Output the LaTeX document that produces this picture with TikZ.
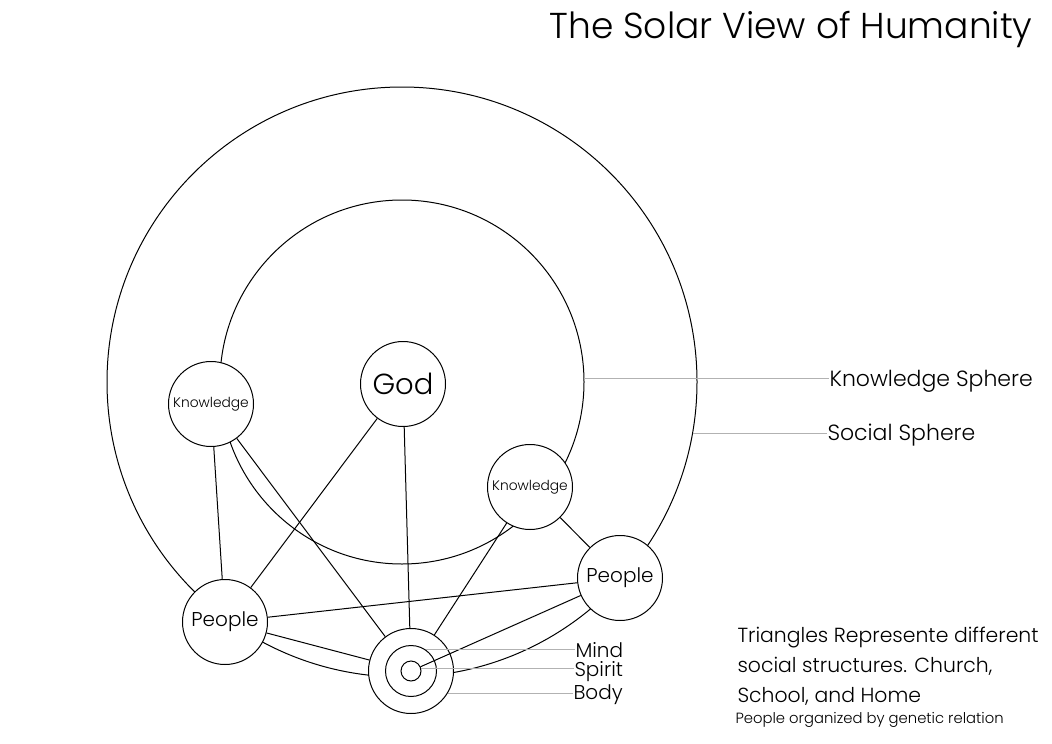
\documentclass[tikz,border=0pt]{standalone}
\usepackage{fontspec}
\setmainfont{Poppins}[UprightFont=* Light]
\begin{document}
\begin{tikzpicture}[x=1pt,y=-1pt, line width=1pt,
  sphere/.style={circle, draw, inner sep=0pt},
  ball/.style={circle, draw, fill=white, inner sep=0pt, minimum size=85pt},
  ring/.style={circle, draw, inner sep=0pt},
  leader/.style={draw=black!30, line width=1pt},
  lbl/.style={anchor=base west, inner sep=0pt},
  ftitle/.style={font=\fontsize{36}{36}\selectfont},
  fbig/.style={font=\fontsize{22}{22}\selectfont},
  ftri/.style={font=\fontsize{20.4}{20.4}\selectfont},
  fmid/.style={font=\fontsize{20}{20}\selectfont},
  fsmall/.style={font=\fontsize{13.8}{13.8}\selectfont},
  fnote/.style={font=\fontsize{14.8}{14.8}\selectfont}]
\useasboundingbox (0,0) rectangle (1052,744);

% spheres
\node[sphere, minimum size=590pt] (social) at (402,382) {};
\node[sphere, minimum size=364pt] (know) at (402,382) {};

% nodes
\node[ball, font=\fontsize{29}{29}\selectfont] (god) at (403,384) {God};
\node[ball, fsmall] (kl) at (211,404) {Knowledge};
\node[ball, fsmall] (kr) at (530,487) {Knowledge};
\node[ball, fmid] (pl) at (225,622) {People};
\node[ball, fmid] (pr) at (620,578) {People};
\node[ball] (tgt) at (411,671) {};
\node[ring, minimum size=51pt] (tmid) at (411,671) {};
\node[ring, minimum size=20pt] (tin) at (411,671) {};

% connectors
\draw (kl) -- (pl);
\draw (kl) -- (tgt);
\draw (god) -- (pl);
\draw (god) -- (tgt);
\draw (kr) -- (tgt);
\draw (kr) -- (pr);
\draw (pr) -- (pl);
\draw (pr) -- (tin);
\draw (pl) -- (tgt);

% labels with leaders
\node[lbl, fbig] (ksl) at (829,386) {Knowledge Sphere};
\draw[leader] (know.1) -- (know.1 -| ksl.west);
\node[lbl, fbig] (ssl) at (827,440) {Social Sphere};
\draw[leader] (social.-10) -- (social.-10 -| ssl.west);

\node[lbl, fmid] (mind) at (575,657) {Mind};
\draw[leader] (tmid.55) -- (tmid.55 -| mind.west);
\node[lbl, fmid] (spirit) at (574,676) {Spirit};
\draw[leader] (tin.12) -- (tin.12 -| spirit.west);
\node[lbl, fmid] (body) at (573,699) {Body};
\draw[leader] (tgt.-31) -- (tgt.-31 -| body.west);

% title and notes
\node[anchor=base east, inner sep=0pt, ftitle] (title) at (1033,38) {The Solar View of Humanity};
\node[lbl, ftri] (tri1) at (737,642) {Triangles Represente different};
\node[lbl, ftri] (tri2) at (737,672) {social structures. Church,};
\node[lbl, ftri] (tri3) at (737,702) {School, and Home};
\node[lbl, fnote] (note) at (735,723) {People organized by genetic relation};
\end{tikzpicture}
\end{document}
